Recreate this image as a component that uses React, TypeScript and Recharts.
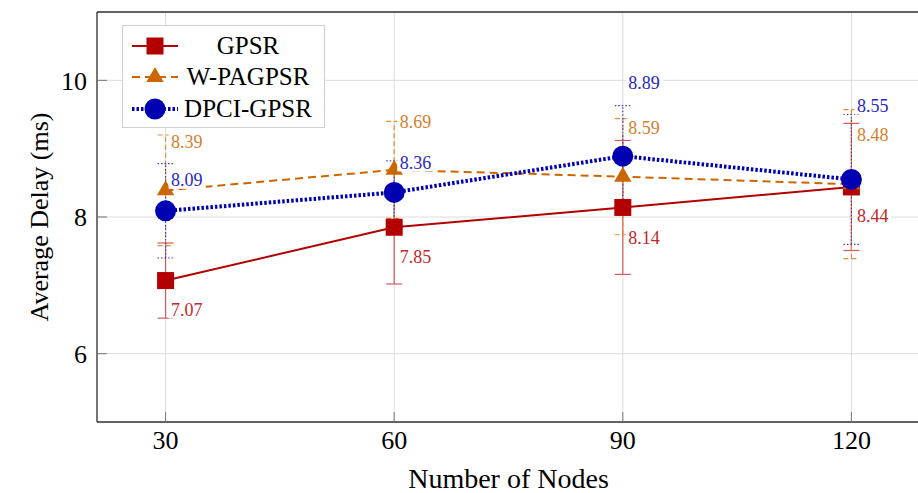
import React from 'react';
import { LineChart, Line, XAxis, YAxis, CartesianGrid, ErrorBar, LabelList, Legend } from 'recharts';

const NODES = [30, 60, 90, 120];
const GPSR = [7.07, 7.85, 8.14, 8.44];
const GPSR_ERR = [0.55, 0.83, 0.98, 0.93];
const WPAGPSR = [8.39, 8.69, 8.59, 8.48];
const WPAGPSR_ERR = [0.81, 0.71, 0.85, 1.09];
const DPCI = [8.09, 8.36, 8.89, 8.55];
const DPCI_ERR = [0.69, 0.46, 0.74, 0.95];
const X_TICKS = [30, 60, 90, 120];
const Y_TICKS = [6, 8, 10];

const FONT = '"Liberation Serif", "Times New Roman", serif';

const data = NODES.map((n, i) => ({
  nodes: n,
  gpsr: GPSR[i],
  gpsrErr: GPSR_ERR[i],
  wpa: WPAGPSR[i],
  wpaErr: WPAGPSR_ERR[i],
  dpci: DPCI[i],
  dpciErr: DPCI_ERR[i],
}));

type Marker = 'square' | 'triangle' | 'circle';

// label vertical offsets (px) from each point, as placed in the figure
const SERIES = [
  {
    key: 'gpsr', errKey: 'gpsrErr', name: 'GPSR', color: '#b30000', labelColor: '#c0282a', errColor: '#d25c5c',
    dash: undefined as string | undefined, width: 2, errDash: undefined as string | undefined,
    marker: 'square' as Marker, labelDy: [29, 29, 30, 29],
  },
  {
    key: 'wpa', errKey: 'wpaErr', name: 'W-PAGPSR', color: '#cc6600', labelColor: '#d4802c', errColor: '#df8c3c',
    dash: '8 5', width: 2, errDash: '5 3', marker: 'triangle' as Marker, labelDy: [-49, -48, -49, -50],
  },
  {
    key: 'dpci', errKey: 'dpciErr', name: 'DPCI-GPSR', color: '#0000b3', labelColor: '#2828c4', errColor: '#3a3ad8',
    dash: '2.5 2', width: 4, errDash: '1.5 2', marker: 'circle' as Marker, labelDy: [-31, -30, -74, -74],
  },
];

const drawMarker = (marker: Marker, color: string, cx: number, cy: number, key?: any) => {
  if (marker === 'square') {
    return <rect key={key} x={cx - 8.5} y={cy - 8.5} width={17} height={17} fill={color} />;
  }
  if (marker === 'triangle') {
    return (
      <polygon
        key={key}
        points={`${cx},${cy - 10} ${cx + 8.7},${cy + 5} ${cx - 8.7},${cy + 5}`}
        fill={color}
      />
    );
  }
  return <circle key={key} cx={cx} cy={cy} r={10.5} fill={color} />;
};

const makeDot = (marker: Marker, color: string) => (props: any) => {
  const { cx, cy, index } = props;
  if (cx == null || cy == null) return <g key={`d-${index}`} />;
  return drawMarker(marker, color, cx, cy, `d-${index}`);
};

const makeLabel = (color: string, dys: number[]) => (props: any) => {
  const { x, y, value, index } = props;
  if (x == null || y == null) return null;
  const text = Number(value).toFixed(2);
  const dy = dys[index] ?? 0;
  const w = text.length * 8.3;
  return (
    <g key={`l-${index}`}>
      <rect x={x + 3} y={y + dy - 9} width={w + 4} height={18} fill="#ffffff" />
      <text
        x={x + 5.5}
        y={y + dy}
        dy="0.36em"
        fill={color}
        fontSize={18}
        fontFamily={FONT}
      >
        {text}
      </text>
    </g>
  );
};

const LegendBox = () => (
  <div
    style={{
      width: 203,
      height: 103,
      boxSizing: 'border-box',
      border: '1px solid #cfcfcf',
      background: '#ffffff',
      fontFamily: FONT,
      fontSize: 25,
      color: '#000',
      paddingTop: 4,
    }}
  >
    {SERIES.map((s) => (
      <div key={s.key} style={{ display: 'flex', alignItems: 'center', height: 31.5 }}>
        <svg width={46} height={26} style={{ marginLeft: 9, flex: 'none' }}>
          <line x1={0} y1={13} x2={46} y2={13} stroke={s.color} strokeWidth={s.width} strokeDasharray={s.dash} />
          {drawMarker(s.marker, s.color, 23, 13)}
        </svg>
        <span style={{ flex: 1, textAlign: 'center', paddingRight: 6, lineHeight: '26px' }}>{s.name}</span>
      </div>
    ))}
  </div>
);

const YTitle = (props: any) => {
  const vb = props.viewBox || {};
  const cy = (vb.y ?? 0) + (vb.height ?? 0) / 2;
  return (
    <text
      transform={`translate(39, ${cy}) rotate(-90)`}
      textAnchor="middle"
      dominantBaseline="central"
      fontSize={26}
      fontFamily={FONT}
      fill="#000"
    >
      Average Delay (ms)
    </text>
  );
};

export default function App() {
  return (
    <div
      style={{
        position: 'absolute',
        left: 0,
        top: 0,
        width: 918,
        height: 493,
        overflow: 'hidden',
        background: '#ffffff',
      }}
    >
      <LineChart width={930} height={493} data={data} margin={{ top: 12, right: 10, bottom: 0, left: 0 }}>
        <CartesianGrid stroke="#dcdcdc" strokeWidth={1} />
        <XAxis
          dataKey="nodes"
          type="number"
          domain={[21, 129]}
          ticks={X_TICKS}
          height={71}
          tickSize={-10}
          tickMargin={19}
          tick={{ fontSize: 26, fontFamily: FONT, fill: '#000' }}
          tickLine={{ stroke: '#777' }}
          axisLine={{ stroke: '#333', strokeWidth: 1.3 }}
          label={{ value: 'Number of Nodes', position: 'insideBottom', offset: 5, fontSize: 28, fontFamily: FONT, fill: '#000' }}
        />
        <XAxis
          xAxisId="top"
          orientation="top"
          dataKey="nodes"
          type="number"
          domain={[21, 129]}
          ticks={X_TICKS}
          mirror
          tick={false}
          tickSize={10}
          tickLine={{ stroke: '#777' }}
          axisLine={{ stroke: '#333', strokeWidth: 1.3 }}
        />
        <YAxis
          type="number"
          domain={[5, 11]}
          ticks={Y_TICKS}
          width={97}
          tickSize={-10}
          tickMargin={20}
          tick={{ fontSize: 26, fontFamily: FONT, fill: '#000' }}
          tickLine={{ stroke: '#777' }}
          axisLine={{ stroke: '#333', strokeWidth: 1.3 }}
          label={<YTitle />}
        />
        <YAxis
          yAxisId="right"
          orientation="right"
          type="number"
          domain={[5, 11]}
          ticks={Y_TICKS}
          mirror
          tick={false}
          tickSize={10}
          tickLine={{ stroke: '#777' }}
          axisLine={{ stroke: '#333', strokeWidth: 1.3 }}
        />
        <Legend
          content={<LegendBox />}
          layout="horizontal"
          verticalAlign="middle"
          wrapperStyle={{ left: 122, top: 25, width: 203, height: 103 }}
        />
        {SERIES.map((s) => (
          <Line
            key={s.key}
            type="linear"
            dataKey={s.key}
            name={s.name}
            stroke={s.color}
            strokeWidth={s.width}
            strokeDasharray={s.dash}
            dot={makeDot(s.marker, s.color)}
            activeDot={false}
            isAnimationActive={false}
          >
            <ErrorBar
              dataKey={s.errKey}
              direction="y"
              width={8}
              stroke={s.errColor}
              strokeWidth={1.2}
              strokeDasharray={s.errDash}
            />
            <LabelList dataKey={s.key} content={makeLabel(s.labelColor, s.labelDy)} />
          </Line>
        ))}
      </LineChart>
    </div>
  );
}
